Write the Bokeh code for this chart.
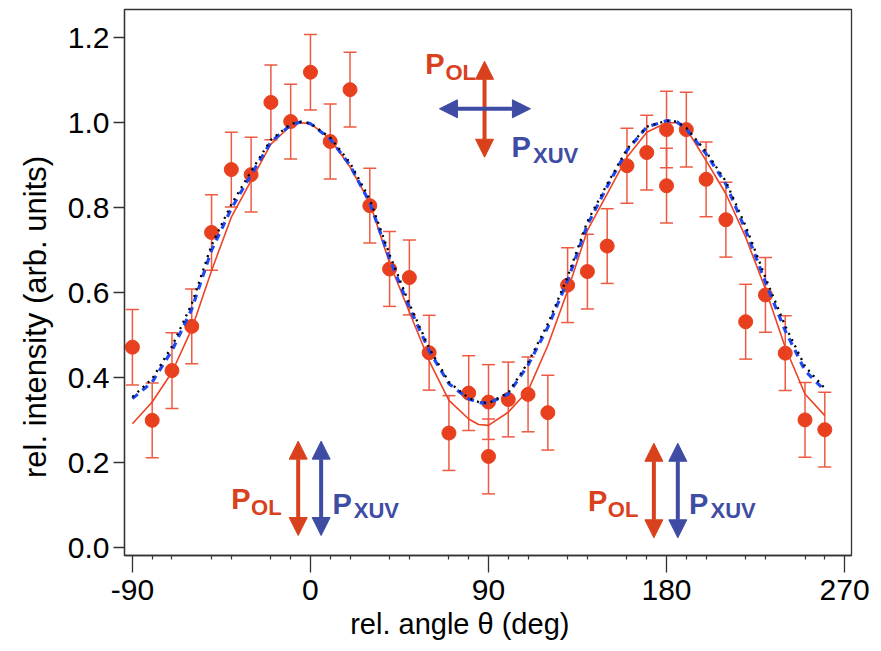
from bokeh.plotting import figure
from bokeh.models import (Range1d, FixedTicker, LinearAxis, Whisker, ColumnDataSource,
                          Label, Arrow, NormalHead, TeeHead, PrintfTickFormatter)
from bokeh.embed import file_html
from bokeh.resources import INLINE

# ---------------- data ----------------
angles = [-90, -80, -70, -60, -50, -40, -30, -20, -10, 0, 10, 20, 30, 40, 50, 60, 70, 80,
          90, 90, 100, 110, 120, 130, 140, 150, 160, 170, 180, 180, 190, 200, 210, 220,
          230, 240, 250, 260]
intensity = [0.472, 0.300, 0.417, 0.521, 0.742, 0.890, 0.878, 1.048, 1.003, 1.119, 0.956,
             1.078, 0.805, 0.656, 0.636, 0.459, 0.270, 0.364, 0.343, 0.215, 0.349, 0.361,
             0.318, 0.618, 0.650, 0.710, 0.899, 0.930, 0.984, 0.852, 0.984, 0.867, 0.772,
             0.532, 0.595, 0.458, 0.301, 0.278]
errors = [0.089, 0.088, 0.089, 0.088, 0.089, 0.088, 0.088, 0.088, 0.088, 0.089, 0.088,
          0.088, 0.088, 0.088, 0.088, 0.088, 0.088, 0.088, 0.088, 0.088, 0.088, 0.088,
          0.088, 0.088, 0.088, 0.088, 0.088, 0.088, 0.090, 0.088, 0.088, 0.088, 0.088,
          0.088, 0.088, 0.088, 0.088, 0.088]

fit_angles = [-90, -80, -70, -60, -50, -40, -30, -20, -10, -5, 0, 10, 20, 30, 40, 50, 60,
              70, 80, 85, 90, 100, 110, 120, 130, 140, 150, 160, 170, 180, 185, 190, 200,
              210, 220, 230, 240, 250, 260]
fit_red = [0.292, 0.343, 0.413, 0.515, 0.652, 0.778, 0.864, 0.950, 0.993, 1.000, 0.998,
           0.962, 0.896, 0.812, 0.670, 0.555, 0.440, 0.347, 0.303, 0.290, 0.288, 0.319,
           0.370, 0.476, 0.605, 0.747, 0.833, 0.919, 0.978, 1.000, 1.000, 0.986, 0.911,
           0.833, 0.731, 0.609, 0.472, 0.362, 0.311]
fit_blue = [0.351, 0.390, 0.464, 0.562, 0.700, 0.798, 0.878, 0.955, 0.995, 1.002, 0.998,
            0.962, 0.900, 0.812, 0.680, 0.566, 0.464, 0.386, 0.350, 0.342, 0.340, 0.362,
            0.430, 0.519, 0.629, 0.760, 0.850, 0.935, 0.990, 1.005, 1.003, 0.986, 0.927,
            0.856, 0.747, 0.625, 0.511, 0.417, 0.370]
fit_black = [0.355, 0.398, 0.474, 0.574, 0.712, 0.808, 0.886, 0.960, 0.997, 1.002, 0.999,
             0.965, 0.906, 0.820, 0.690, 0.574, 0.470, 0.390, 0.352, 0.343, 0.340, 0.365,
             0.436, 0.527, 0.638, 0.768, 0.856, 0.938, 0.991, 1.005, 1.003, 0.988, 0.932,
             0.862, 0.757, 0.636, 0.522, 0.427, 0.375]

x_major = [-90, 0, 90, 180, 270]
x_major_labels = ["-90", "0", "90", "180", "270"]
x_mid = [-60, -30, 30, 60, 120, 150, 210, 240]
x_minor = [-80, -70, -50, -40, -20, -10, 10, 20, 40, 50, 70, 80, 100, 110, 130, 140, 160,
           170, 190, 200, 220, 230, 250, 260]
y_ticks = [0.0, 0.2, 0.4, 0.6, 0.8, 1.0, 1.2]

RED = "#E8401E"
RED_ERR = "#EE5A42"
RED_FIT = "#EC4424"
BLUE_FIT = "#1F48F0"
ANN_RED = "#D9401C"
ANN_BLUE = "#3E4CA4"
FONT = "Liberation Sans"
AXC = "#333333"
NB = "\u00a0"

Y0, Y1 = -0.0181, 1.2666
X0, X1 = -94.0, 273.5

p = figure(width=878, height=650, x_range=Range1d(X0, X1), y_range=Range1d(Y0, Y1),
           output_backend="svg", toolbar_location=None,
           min_border_left=124, min_border_right=27, min_border_top=9, min_border_bottom=95)
p.xgrid.visible = False
p.ygrid.visible = False
p.outline_line_color = AXC
p.outline_line_width = 1.3
p.background_fill_color = "white"

for ax in (p.yaxis[0], p.xaxis[0]):
    ax.major_label_text_font = FONT
    ax.major_label_text_font_size = "30px"
    ax.major_label_text_color = "black"
    ax.axis_line_color = AXC
    ax.axis_line_width = 1.3
    ax.major_tick_line_color = AXC
    ax.major_tick_line_width = 1.3
    ax.axis_label_text_font = FONT
    ax.axis_label_text_font_style = "normal"
    ax.axis_label_text_color = "black"

# y axis
p.yaxis.ticker = FixedTicker(ticks=y_ticks)
p.yaxis.formatter = PrintfTickFormatter(format="%.1f")
p.yaxis.major_tick_out = 11
p.yaxis.major_tick_in = 0
p.yaxis.minor_tick_line_color = None
p.yaxis.major_label_standoff = 4
p.yaxis.axis_label = "rel. intensity (arb. units)" + NB * 8
p.yaxis.axis_label_text_font_size = "31px"
p.yaxis.axis_label_standoff = 12

# x axis
p.xaxis.ticker = FixedTicker(ticks=x_major, minor_ticks=x_minor)
p.xaxis.major_label_overrides = dict(zip(x_major, x_major_labels))
p.xaxis.major_tick_out = 17
p.xaxis.major_tick_in = 0
p.xaxis.minor_tick_out = 4
p.xaxis.minor_tick_in = 0
p.xaxis.minor_tick_line_color = AXC
p.xaxis.minor_tick_line_width = 1.2
p.xaxis.major_label_standoff = 7
p.xaxis.axis_label = "rel. angle \u03b8 (deg)" + NB * 7
p.xaxis.axis_label_text_font_size = "29px"
p.xaxis.axis_label_standoff = 5

# medium ticks every 30 deg, drawn at the frame bottom
mid_axis = LinearAxis(fixed_location=Y0, ticker=FixedTicker(ticks=x_mid),
                      major_tick_out=9, major_tick_in=0, minor_tick_line_color=None,
                      axis_line_color=None, major_tick_line_color=AXC,
                      major_tick_line_width=1.3, major_label_text_color=None,
                      major_label_text_font_size="1px", major_label_standoff=0)
p.add_layout(mid_axis, "below")

# data
src = ColumnDataSource(dict(angle=angles, intensity=intensity,
                            upper=[v + e for v, e in zip(intensity, errors)],
                            lower=[v - e for v, e in zip(intensity, errors)]))
p.add_layout(Whisker(base="angle", upper="upper", lower="lower", source=src,
                     line_color=RED_ERR, line_width=1.5,
                     upper_head=TeeHead(size=13, line_color=RED_ERR, line_width=1.5),
                     lower_head=TeeHead(size=13, line_color=RED_ERR, line_width=1.5)))
p.scatter("angle", "intensity", source=src, size=14, fill_color=RED, line_color=RED)

p.line(fit_angles, fit_red, line_color=RED_FIT, line_width=1.6)
p.line(fit_angles, fit_blue, line_color=BLUE_FIT, line_width=3.2, line_dash="7 6")
p.line(fit_angles, fit_black, line_color="black", line_width=2.3, line_dash="2 5")


# polarisation annotations
def txt(x, y, s, color, size):
    p.add_layout(Label(x=x, y=y, text=s, text_align="left", text_baseline="alphabetic",
                       text_font=FONT, text_font_style="bold", text_font_size=size,
                       text_color=color))


def arrow(x0, y0, x1, y1, color):
    p.add_layout(Arrow(x_start=x0, y_start=y0, x_end=x1, y_end=y1, line_color=color,
                       line_width=4,
                       start=NormalHead(size=18, fill_color=color, line_color=color),
                       end=NormalHead(size=18, fill_color=color, line_color=color)))


# top
arrow(88.0, 0.919, 88.0, 1.1447, ANN_RED)
arrow(65.2, 1.033, 111.2, 1.033, ANN_BLUE)
txt(58.0, 1.1388, "P", ANN_RED, "29px")
txt(68.25, 1.119, "OL", ANN_RED, "22px")
txt(101.6, 0.9426, "P", ANN_BLUE, "29px")
txt(112.5, 0.923, "XUV", ANN_BLUE, "22px")

# bottom left
arrow(-6.2, 0.0289, -6.2, 0.251, ANN_RED)
arrow(5.4, 0.0289, 5.4, 0.251, ANN_BLUE)
txt(-40.0, 0.1153, "P", ANN_RED, "29px")
txt(-30.0, 0.0955, "OL", ANN_RED, "22px")
txt(11.1, 0.1042, "P", ANN_BLUE, "29px")
txt(21.9, 0.0878, "XUV", ANN_BLUE, "22px")

# bottom right
arrow(173.6, 0.0235, 173.6, 0.246, ANN_RED)
arrow(185.7, 0.0235, 185.7, 0.246, ANN_BLUE)
txt(140.3, 0.111, "P", ANN_RED, "29px")
txt(150.3, 0.0898, "OL", ANN_RED, "22px")
txt(191.3, 0.1035, "P", ANN_BLUE, "29px")
txt(202.2, 0.088, "XUV", ANN_BLUE, "22px")

open("out.html", "w").write(file_html(p, INLINE))
